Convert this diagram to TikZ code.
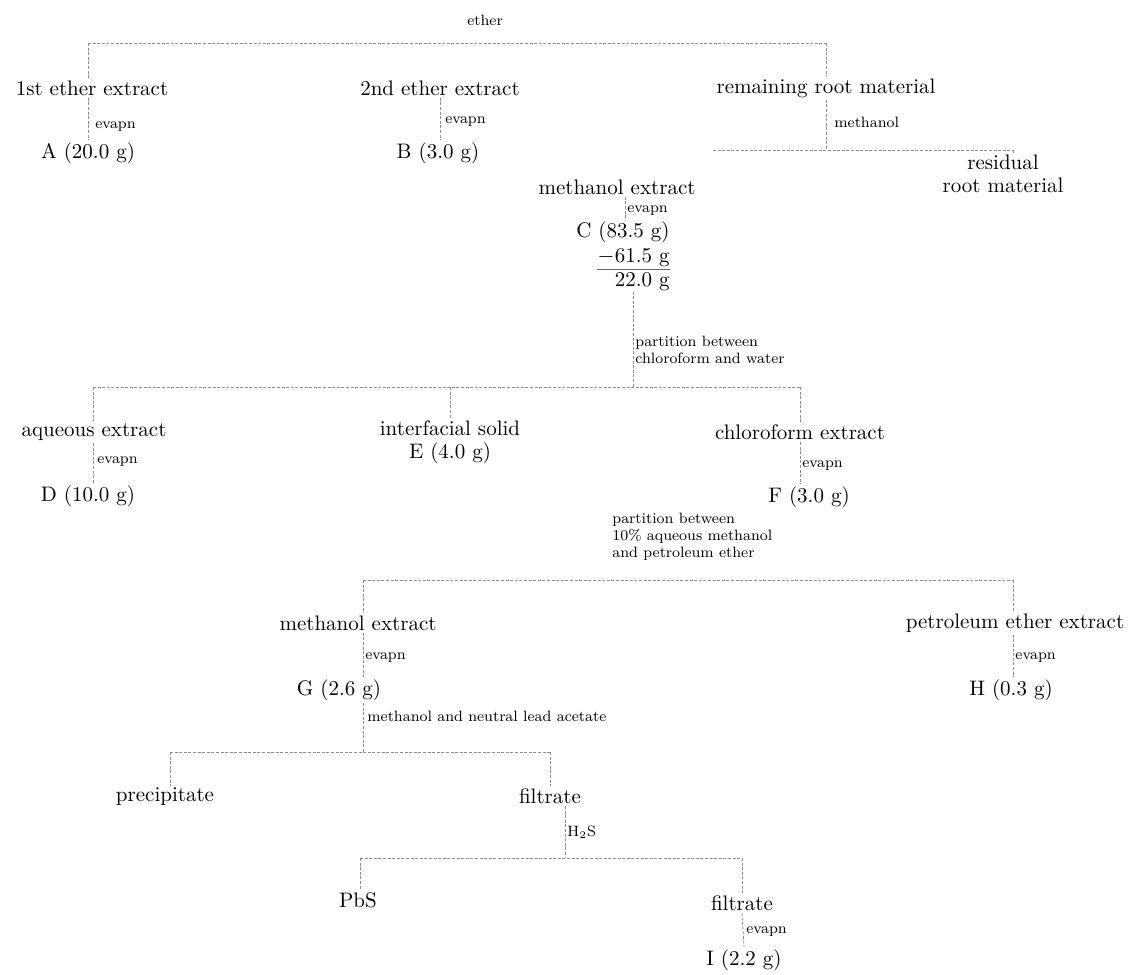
\documentclass[tikz,border=0pt]{standalone}
\usepackage{amsmath,amssymb}
\usepackage{xcolor}
\usepackage{tikz}

\tikzset{
  big/.style={font=\fontsize{10.5}{12.5}\selectfont, inner sep=1pt, align=center},
  small/.style={font=\fontsize{7.5}{8.5}\selectfont, inner sep=1pt, anchor=west, align=left},
  link/.style={draw=black!45, dash pattern=on 1.5pt off 0.8pt, line width=0.4pt}
}

\begin{document}
\begin{tikzpicture}[x=0.5pt,y=-0.5pt]
		\useasboundingbox (0,0) rectangle (1133,974);
		% 第一次萃取
		\node[small,anchor=center] (ether) at (485,20) {ether};
		\coordinate (b1l) at (88,43);
		\coordinate (b1r) at (826,43);
		\draw[link] (b1l) -- (b1r);
		\node[big] (ext1) at (92,88) {1st ether extract};
		\node[big] (ext2) at (440,88) {2nd ether extract};
		\node[big] (remain) at (826,88) {remaining root material};
		\draw[link] (b1l) -- (b1l |- ext1.north);
		\draw[link] (b1r) -- (remain.north);
		\node[small] (evA) at (93,127) {evapn};
		\node[big] (A) at (88,153) {A (20.0 g)};
		\draw[link] (ext1.south -| b1l) -- (A.north -| b1l);
		\node[small] (evB) at (443,122) {evapn};
		\node[big] (B) at (438,153) {B (3.0 g)};
		\draw[link] (ext2.south) -- (ext2.south |- B.north);
		% 甲醇萃取
		\node[small] (methA) at (832,122) {methanol};
		\coordinate (b2l) at (713,150);
		\coordinate (b2r) at (1013,150);
		\draw[link] (remain.south) -- (remain.south |- b2l);
		\draw[link] (b2l) -- (b2r);
		\node[big] (resid) at (1003,174) {residual\\[-1pt]root material};
		\draw[link] (b2r) -- (b2r |- resid.north);
		\node[big] (mext) at (617,187) {methanol extract};
		\node[small] (evC) at (625,211) {evapn};
		\node[big,anchor=east,inner sep=0pt] (cA) at (670,232) {C (83.5 g)};
		\node[big,anchor=east,inner sep=0pt] (cB) at (670,258) {$-$61.5 g};
		\node[big,anchor=east,inner sep=0pt] (cC) at (670,282) {22.0 g};
		\draw[black!60, line width=0.4pt] ([yshift=-1pt]cB.south west) -- ([yshift=-1pt]cB.south east);
		\draw[link] (mext.south -| evC.west) -- (cA.north -| evC.west);
		% 氯仿和水分配
		\node[small] (partA) at (633,350) {partition between\\chloroform and water};
		\coordinate (b3l) at (93,387);
		\coordinate (b3r) at (800,387);
		\draw[link] (cC.south -| partA.west) -- (b3l -| partA.west);
		\draw[link] (b3l) -- (b3r);
		\node[big] (aq) at (94,432) {aqueous extract};
		\node[big] (inter) at (450,442) {interfacial solid\\[-1pt]E (4.0 g)};
		\node[big] (chl) at (800,432) {chloroform extract};
		\draw[link] (b3l) -- (b3l |- aq.north);
		\draw[link] (b3l -| inter) -- (inter.north);
		\draw[link] (b3r) -- (chl.north);
		\node[small] (evD) at (95,462) {evapn};
		\node[big] (D) at (88,496) {D (10.0 g)};
		\draw[link] (aq.south -| b3l) -- (D.north -| b3l);
		\node[small] (evF) at (800,466) {evapn};
		\node[big] (F) at (809,497) {F (3.0 g)};
		\draw[link] (chl.south) -- (chl.south |- F.north);
		% 甲醇和石油醚分配
		\node[small] (partB) at (610,537) {partition between\\10\% aqueous methanol\\and petroleum ether};
		\coordinate (b4l) at (363,580);
		\coordinate (b4r) at (1013,580);
		\draw[link] (b4l) -- (b4r);
		\node[big] (mext2) at (358,623) {methanol extract};
		\node[big] (pet) at (1015,623) {petroleum ether extract};
		\draw[link] (b4l) -- (b4l |- mext2.north);
		\draw[link] (b4r) -- (pet.north -| b4r);
		\node[small] (evG) at (363,658) {evapn};
		\node[big] (G) at (339,690) {G (2.6 g)};
		\draw[link] (mext2.south -| b4l) -- (G.north -| b4l);
		\node[small] (evH) at (1013,658) {evapn};
		\node[big] (H) at (1011,690) {H (0.3 g)};
		\draw[link] (pet.south -| b4r) -- (H.north -| b4r);
		% 醋酸铅沉淀
		\node[small] (lead) at (365,716) {methanol and neutral lead acetate};
		\coordinate (b5l) at (170,752);
		\coordinate (b5r) at (550,752);
		\draw[link] (G.south -| b4l) -- (b5l -| b4l);
		\draw[link] (b5l) -- (b5r);
		\node[big] (prec) at (165,797) {precipitate};
		\node[big] (filtA) at (550,796) {filtrate};
		\draw[link] (b5l) -- (b5l |- prec.north);
		\draw[link] (b5r) -- (filtA.north);
		% 硫化氢处理
		\node[small] (hs) at (565,832) {H$_2$S};
		\coordinate (b6l) at (360,858);
		\coordinate (b6r) at (742,858);
		\draw[link] (filtA.south -| hs.west) -- (b6l -| hs.west);
		\draw[link] (b6l) -- (b6r);
		\node[big] (pbs) at (358,900) {PbS};
		\node[big] (filtB) at (742,903) {filtrate};
		\draw[link] (b6l) -- (b6l |- pbs.north);
		\draw[link] (b6r) -- (filtB.north);
		\node[small] (evI) at (744,932) {evapn};
		\node[big] (I) at (744,960) {I (2.2 g)};
		\draw[link] (filtB.south) -- (I.north);
	\end{tikzpicture}
\end{document}
